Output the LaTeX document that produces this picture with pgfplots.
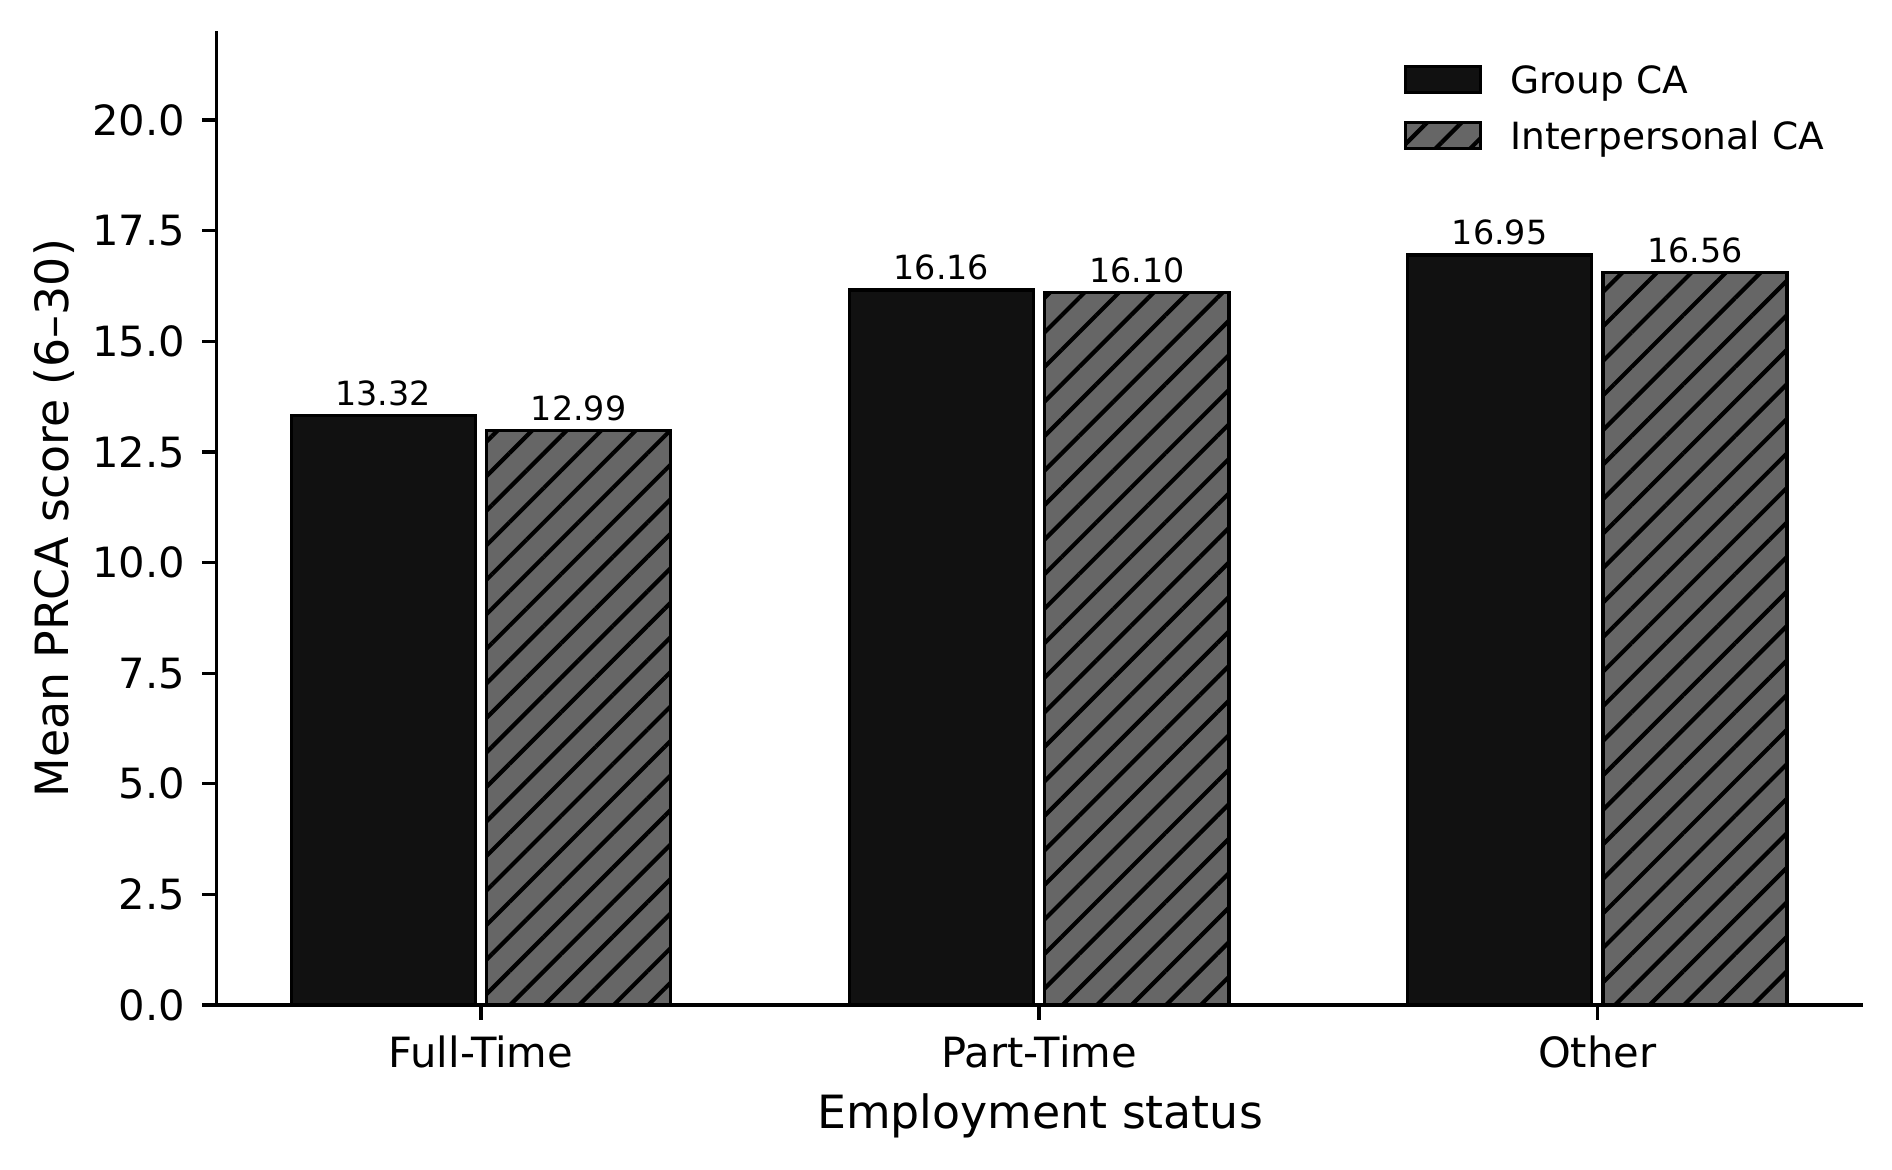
\documentclass[border=0pt]{standalone}
\usepackage{fontspec}
\setmainfont{DejaVu Sans}
\usepackage{pgfplots}
\pgfplotsset{compat=1.18}
\usetikzlibrary{patterns.meta}
\definecolor{barA}{HTML}{111111}
\definecolor{barB}{HTML}{666666}
\pgfplotsset{
  mylegend/.style={legend image code/.code={\draw[##1] (0pt,-2.35pt) rectangle (18pt,3.95pt);}}
}
\begin{document}
\begin{tikzpicture}
\path[use as bounding box] (-52.0pt,-39.53pt) rectangle (402.1pt,241.24pt);
\begin{axis}[
  scale only axis, width=395.2pt, height=233.7pt,
  at={(0,0)}, anchor=south west,
  xmin=-0.4735, xmax=2.4765, ymin=0, ymax=22,
  axis x line*=bottom, axis y line*=left,
  axis line style={-, line width=0.8pt, black},
  xtick={0,1,2}, xticklabels={Full-Time,Part-Time,Other},
  ytick={0,2.5,5,7.5,10,12.5,15,17.5,20},
  tick align=outside, major tick length=3.5pt,
  tick style={line width=0.8pt, black},
  /pgf/number format/assume math mode=true,
  tick label style={font=\fontsize{10}{12}\selectfont},
  yticklabel style={/pgf/number format/fixed, /pgf/number format/fixed zerofill, /pgf/number format/precision=1, anchor=east, inner sep=0pt, xshift=-3.9pt},
  xticklabel style={anchor=base, inner sep=0pt, yshift=-11.4pt},
  xlabel={Employment status},
  ylabel={Mean PRCA score (6–30)},
  label style={font=\fontsize{11}{13.2}\selectfont},
  xlabel style={at={(axis description cs:0.5,-0.1271)}, anchor=base, inner sep=0pt},
  ylabel style={at={(axis description cs:-0.0898,0.5)}, anchor=base, inner sep=0pt},
  legend style={draw=none, fill=none, at={(axis description cs:0.7208,0.9666)}, anchor=north west,
    inner sep=0pt, outer sep=0pt, row sep=4.5pt, column sep=6.8pt,
    font=\fontsize{9}{10.8}\selectfont,
    nodes={inner sep=0pt, text height=7pt, text depth=2pt},
    cells={anchor=west}},
  nodes near coords,
  nodes near coords style={font=\fontsize{8}{9.6}\selectfont, anchor=base, inner sep=0pt, yshift=2.4pt,
    /pgf/number format/fixed, /pgf/number format/fixed zerofill, /pgf/number format/precision=2},
]
\addplot[ybar, mylegend, bar width=0.33, bar shift=0pt, fill=barA, draw=black, line width=0.8pt]
  coordinates {(-0.175,13.32) (0.825,16.16) (1.825,16.95)};
\addlegendentry{Group CA}
\addplot[ybar, mylegend, bar width=0.33, bar shift=0pt, fill=barB, draw=black, line width=0.8pt,
  postaction={pattern={Lines[angle=45,distance=5.86pt,line width=1pt]}, pattern color=black}]
  coordinates {(0.175,12.99) (1.175,16.10) (2.175,16.56)};
\addlegendentry{Interpersonal CA}
\end{axis}
\end{tikzpicture}
\end{document}
